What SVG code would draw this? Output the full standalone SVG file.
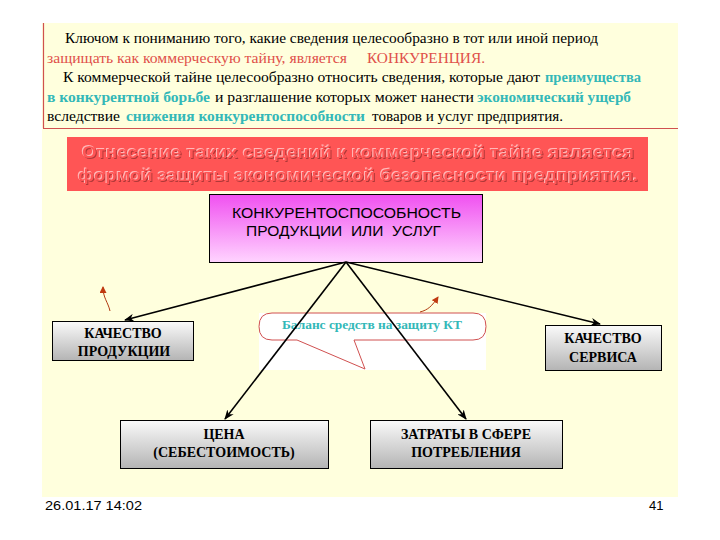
<svg xmlns="http://www.w3.org/2000/svg" width="720" height="540" viewBox="0 0 720 540">
<defs>
<style>
.t{font-family:'Liberation Serif','DejaVu Serif',serif;font-size:14px;fill:#000}
.red{fill:#E0504A}
.teal{fill:#33B8B8;font-weight:bold}
.ban{font-family:'Liberation Sans',Arial,sans-serif;font-size:17px;font-weight:bold;text-anchor:middle}
.nt{font-family:'Liberation Serif','DejaVu Serif',serif;font-size:14px;font-weight:bold;text-anchor:middle;fill:#000}
.pt{font-family:'Liberation Sans',Arial,sans-serif;font-size:14px;text-anchor:middle;fill:#000}
.box{fill:url(#gray);stroke:#000;stroke-width:1}
.con{stroke:#000;stroke-width:1.6;fill:none;marker-end:url(#ah)}
.cur{stroke:#B03A10;stroke-width:1;fill:none;marker-end:url(#ah2)}
.foot{font-family:'Liberation Sans',Arial,sans-serif;font-size:13px;fill:#000}
</style>
<linearGradient id="gray" x1="0" y1="0" x2="0" y2="1">
<stop offset="0" stop-color="#FAFAFA"/>
<stop offset="1" stop-color="#B4B4B4"/>
</linearGradient>
<linearGradient id="pink" x1="0" y1="0" x2="0" y2="1">
<stop offset="0" stop-color="#F050F0"/>
<stop offset="1" stop-color="#FFD4FF"/>
</linearGradient>
<filter id="emboss" x="-5%" y="-30%" width="110%" height="160%">
<feOffset in="SourceAlpha" dx="-1" dy="-1" result="a1"/>
<feFlood flood-color="#FFB8B8" result="f1"/>
<feComposite in="f1" in2="a1" operator="in" result="hi"/>
<feOffset in="SourceAlpha" dx="1" dy="1" result="a2"/>
<feFlood flood-color="#B03838" result="f2"/>
<feComposite in="f2" in2="a2" operator="in" result="sh"/>
<feMerge><feMergeNode in="sh"/><feMergeNode in="hi"/><feMergeNode in="SourceGraphic"/></feMerge>
</filter>
<marker id="ah" markerWidth="10" markerHeight="8" refX="9" refY="4" orient="auto" markerUnits="userSpaceOnUse">
<path d="M0,0 L10,4 L0,8 L3,4 Z" fill="#000"/>
</marker>
<marker id="ah2" markerWidth="7" markerHeight="7" refX="6" refY="3.5" orient="auto" markerUnits="userSpaceOnUse">
<path d="M0,0 L7,3.5 L0,7 Z" fill="#C03A10"/>
</marker>
</defs>
<rect width="720" height="540" fill="#FFFFFF"/>
<rect x="42" y="23" width="636" height="474" fill="#FFFFDD"/>
<g id="intro" font-family="'Liberation Serif','DejaVu Serif',serif">
<line x1="43.5" y1="23" x2="43.5" y2="128" stroke="#D05050" stroke-width="1.2"/>
<line x1="43" y1="128.5" x2="678" y2="128.5" stroke="#D05050" stroke-width="1.2"/>
<text class="t" x="65" y="43" textLength="533" lengthAdjust="spacingAndGlyphs">Ключом к пониманию того, какие сведения целесообразно в тот или иной период</text>
<text class="t red" x="47" y="63" textLength="300" lengthAdjust="spacingAndGlyphs">защищать как коммерческую тайну, является</text>
<text class="t red" x="367" y="63" textLength="118" lengthAdjust="spacingAndGlyphs">КОНКУРЕНЦИЯ.</text>
<text class="t" x="63" y="82" textLength="477" lengthAdjust="spacingAndGlyphs">К коммерческой тайне целесообразно относить сведения, которые дают</text>
<text class="t teal" x="545" y="82" textLength="96" lengthAdjust="spacingAndGlyphs">преимущества</text>
<text class="t teal" x="47" y="102" textLength="163" lengthAdjust="spacingAndGlyphs">в конкурентной борьбе</text>
<text class="t" x="215" y="102" textLength="259" lengthAdjust="spacingAndGlyphs">и разглашение которых может нанести</text>
<text class="t teal" x="477" y="102" textLength="154" lengthAdjust="spacingAndGlyphs">экономический ущерб</text>
<text class="t" x="47" y="121" textLength="73" lengthAdjust="spacingAndGlyphs">вследствие</text>
<text class="t teal" x="126" y="121" textLength="239" lengthAdjust="spacingAndGlyphs">снижения конкурентоспособности</text>
<text class="t" x="372" y="121" textLength="191" lengthAdjust="spacingAndGlyphs">товаров и услуг предприятия.</text>
</g>
<g id="banner">
<rect x="67" y="137" width="581" height="54" fill="#FF5555"/>
<g class="ban" fill="#FF5555" filter="url(#emboss)">
<text x="358" y="158" textLength="552" lengthAdjust="spacingAndGlyphs">Отнесение таких сведений к коммерческой тайне является</text>
<text x="358" y="181" textLength="560" lengthAdjust="spacingAndGlyphs">формой защиты экономической безопасности предприятия.</text>
</g>
</g>
<g id="callout">
<rect x="259" y="313" width="227" height="57" fill="#FFFFFF"/>
<path d="M272,313 H473 Q486,313 486,326.5 Q486,340 473,340 H354 L365,369 L297,340 H272 Q259,340 259,326.5 Q259,313 272,313 Z" fill="#FFFFFF" stroke="#D05050" stroke-width="1"/>
<text class="nt" x="372" y="329" style="fill:#33B8B8;font-size:13px" textLength="180" lengthAdjust="spacingAndGlyphs">Баланс средств на защиту КТ</text>
</g>
<g id="competitiveness">
<rect x="209.5" y="194.5" width="273" height="68" fill="url(#pink)" stroke="#000" stroke-width="1"/>
<text class="pt" x="346.5" y="218" textLength="229" lengthAdjust="spacingAndGlyphs">КОНКУРЕНТОСПОСОБНОСТЬ</text>
<text class="pt" x="343.5" y="236" xml:space="preserve" textLength="195" lengthAdjust="spacingAndGlyphs">ПРОДУКЦИИ  ИЛИ  УСЛУГ</text>
</g>
<g id="quality-product">
<rect class="box" x="52.5" y="321.5" width="141" height="39"/>
<text class="nt" x="123" y="338">КАЧЕСТВО</text>
<text class="nt" x="124" y="356">ПРОДУКЦИИ</text>
</g>
<g id="quality-service">
<rect class="box" x="545.5" y="325.5" width="116" height="45"/>
<text class="nt" x="603" y="343">КАЧЕСТВО</text>
<text class="nt" x="603" y="362">СЕРВИСА</text>
</g>
<g id="price">
<rect class="box" x="120.5" y="420.5" width="208" height="48"/>
<text class="nt" x="224" y="439">ЦЕНА</text>
<text class="nt" x="224" y="457">(СЕБЕСТОИМОСТЬ)</text>
</g>
<g id="consumption">
<rect class="box" x="370.5" y="420.5" width="192" height="48"/>
<text class="nt" x="466" y="439">ЗАТРАТЫ В СФЕРЕ</text>
<text class="nt" x="466" y="457">ПОТРЕБЛЕНИЯ</text>
</g>
<g id="connectors">
<line class="con" x1="346" y1="262" x2="125" y2="320"/>
<line class="con" x1="346" y1="262" x2="600" y2="324"/>
<line class="con" x1="346" y1="262" x2="225" y2="419"/>
<line class="con" x1="346" y1="262" x2="466" y2="419"/>
<path class="cur" d="M110,311 C108,302 103,298 103,287"/>
<path class="cur" d="M420,312 C428,310 432,306 438,297"/>
</g>
<g id="footer">
<text class="foot" x="45" y="510" textLength="97" lengthAdjust="spacingAndGlyphs">26.01.17 14:02</text>
<text class="foot" x="649" y="510">41</text>
</g>
</svg>
